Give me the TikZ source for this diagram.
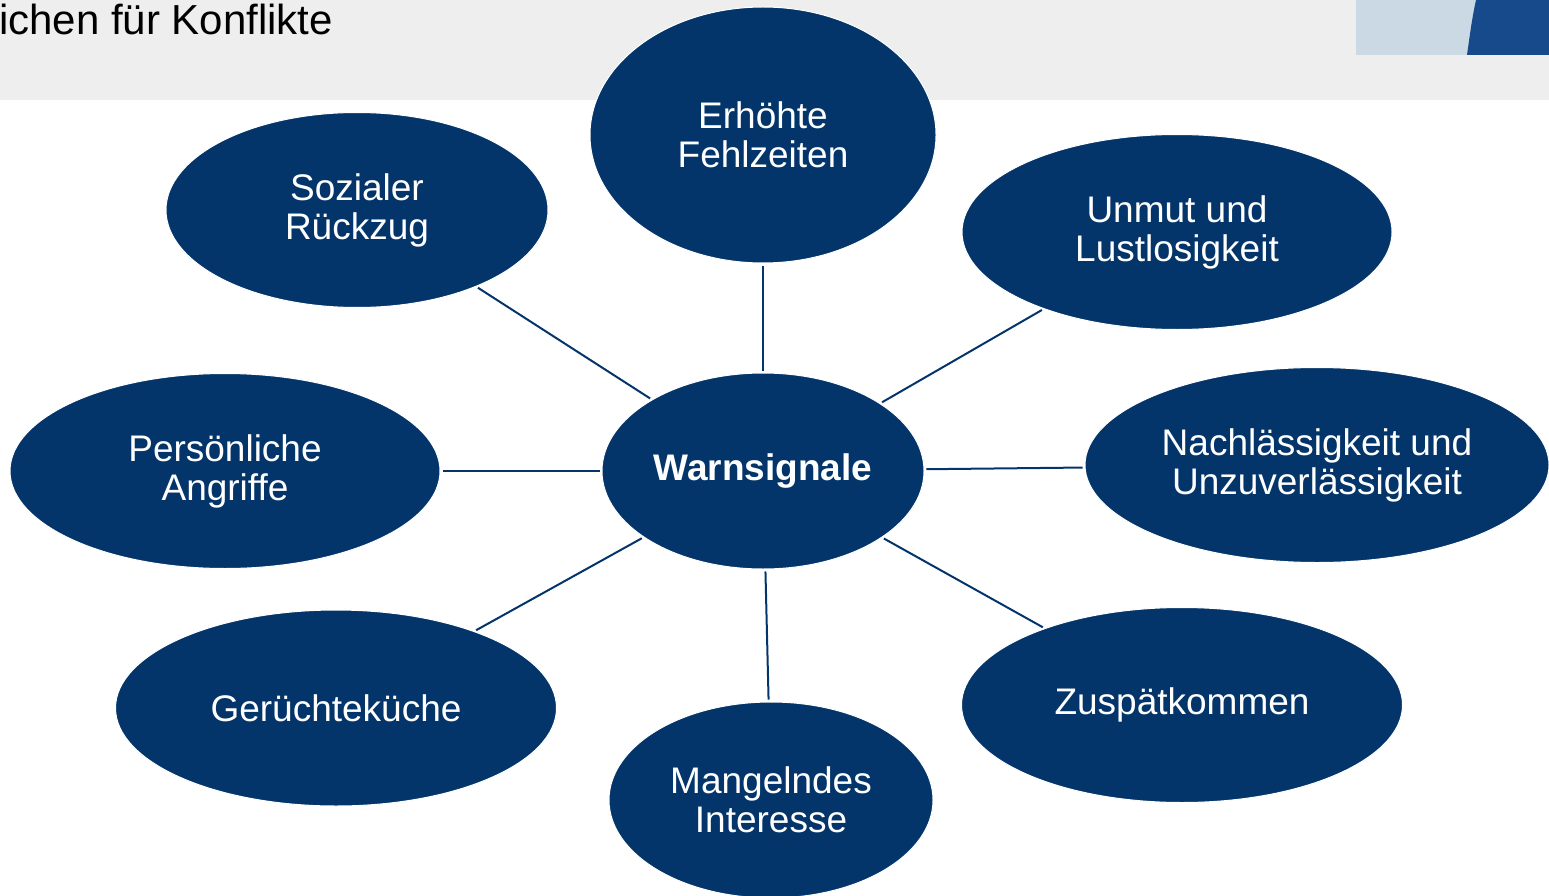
\documentclass[tikz,border=0pt]{standalone}
\usepackage{fontspec}
\setmainfont{Liberation Sans}
\setsansfont{Liberation Sans}
\usetikzlibrary{shapes.geometric}
\tikzset{every node/.style={font=\sffamily}}
\definecolor{navy}{HTML}{03356A}
\definecolor{headgray}{HTML}{EEEEEE}
\definecolor{paleblue}{HTML}{CBD9E4}
\definecolor{deepblue}{HTML}{174A8A}

\begin{document}
\begin{tikzpicture}[x=1pt, y=-1pt,
    signal/.style={ellipse, draw=white, line width=1pt, fill=navy, text=white, align=center, inner sep=0pt, font=\sffamily\fontsize{37}{39}\selectfont},
    spoke/.style={draw=navy, line width=2pt, shorten <=2pt, shorten >=2pt}]
  \useasboundingbox (0,0) rectangle (1549,896);
  % header band
  \fill[headgray] (0,0) rectangle (1549,100);
  \fill[paleblue] (1356,0) rectangle (1549,55);
  \fill[deepblue] (1467,55) .. controls (1470,34) and (1472,18) .. (1476,0) -- (1549,0) -- (1549,55) -- cycle;
  \node[anchor=base west, inner sep=0pt, font=\sffamily\fontsize{42}{48}\selectfont] (title) at (-1,35) {ichen für Konflikte};
  % signals
  \node[signal, font=\sffamily\bfseries\fontsize{37}{39}\selectfont, minimum width=322pt, minimum height=196pt] (warn) at (763,471) {Warnsignale};
  \node[signal, minimum width=346pt, minimum height=256pt] (fehl) at (763,135) {Erhöhte\\Fehlzeiten};
  \node[signal, minimum width=382pt, minimum height=195pt] (rueck) at (357,210) {Sozialer\\Rückzug};
  \node[signal, minimum width=430pt, minimum height=195pt] (unmut) at (1177,232) {Unmut und\\Lustlosigkeit};
  \node[signal, minimum width=430pt, minimum height=195pt] (angriff) at (225,471) {Persönliche\\Angriffe};
  \node[signal, minimum width=464pt, minimum height=195pt] (nachl) at (1317,465) {Nachlässigkeit und\\Unzuverlässigkeit};
  \node[signal, minimum width=441pt, minimum height=196pt] (geruecht) at (336,708) {Gerüchteküche};
  \node[signal, minimum width=441pt, minimum height=195pt] (spaet) at (1182,705) {Zuspätkommen};
  \node[signal, minimum width=324pt, minimum height=196pt] (interesse) at (771,800) {Mangelndes\\Interesse};
  % spokes
  \foreach \n in {fehl, rueck, unmut, angriff, nachl, geruecht, spaet, interesse}
    \draw[spoke] (warn) -- (\n);
\end{tikzpicture}
\end{document}
